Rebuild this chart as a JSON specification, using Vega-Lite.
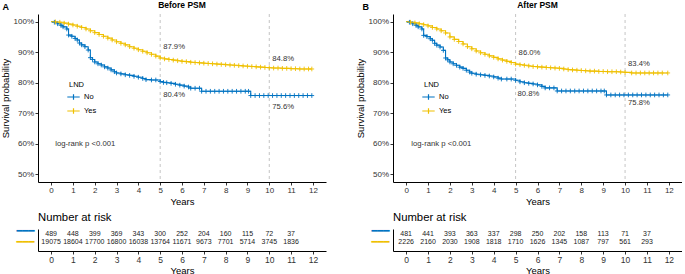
{
  "$schema": "https://vega.github.io/schema/vega-lite/v6.json",
  "padding": {"left": 0, "top": 1, "right": 0, "bottom": 0},
  "background": "white",
  "config": {
    "font": "Liberation Sans",
    "view": {"stroke": null},
    "axis": {"grid": false, "domainColor": "#000", "tickColor": "#000", "labelColor": "#333", "titleColor": "#000", "titleFontWeight": "normal", "tickSize": 3, "domainWidth": 1, "tickWidth": 0.8, "labelOverlap": false, "labelBound": false},
    "title": {"color": "#000"},
    "legend": {"titleFontWeight": "normal", "titleFontSize": 7.5, "labelFontSize": 7.5, "titleColor": "#000", "labelColor": "#000"}
  },
  "datasets": {
    "curves": [
      {"panel":"A","group":"No","t":0,"s":1},{"panel":"A","group":"No","t":0.15,"s":0.998},{"panel":"A","group":"No","t":0.3,"s":0.993},{"panel":"A","group":"No","t":0.45,"s":0.988},{"panel":"A","group":"No","t":0.55,"s":0.983},{"panel":"A","group":"No","t":0.72,"s":0.976},{"panel":"A","group":"No","t":0.8,"s":0.956},{"panel":"A","group":"No","t":0.95,"s":0.952},{"panel":"A","group":"No","t":1.1,"s":0.945},{"panel":"A","group":"No","t":1.2,"s":0.94},{"panel":"A","group":"No","t":1.3,"s":0.93},{"panel":"A","group":"No","t":1.4,"s":0.924},{"panel":"A","group":"No","t":1.55,"s":0.918},{"panel":"A","group":"No","t":1.7,"s":0.907},{"panel":"A","group":"No","t":1.8,"s":0.882},{"panel":"A","group":"No","t":1.9,"s":0.876},{"panel":"A","group":"No","t":2,"s":0.868},{"panel":"A","group":"No","t":2.15,"s":0.862},{"panel":"A","group":"No","t":2.3,"s":0.858},{"panel":"A","group":"No","t":2.45,"s":0.852},{"panel":"A","group":"No","t":2.6,"s":0.848},{"panel":"A","group":"No","t":2.75,"s":0.842},{"panel":"A","group":"No","t":2.9,"s":0.836},{"panel":"A","group":"No","t":3,"s":0.832},{"panel":"A","group":"No","t":3.2,"s":0.829},{"panel":"A","group":"No","t":3.4,"s":0.826},{"panel":"A","group":"No","t":3.6,"s":0.824},{"panel":"A","group":"No","t":3.8,"s":0.821},{"panel":"A","group":"No","t":4,"s":0.818},{"panel":"A","group":"No","t":4.2,"s":0.814},{"panel":"A","group":"No","t":4.35,"s":0.81},{"panel":"A","group":"No","t":4.6,"s":0.809},{"panel":"A","group":"No","t":4.8,"s":0.809},{"panel":"A","group":"No","t":5,"s":0.804},{"panel":"A","group":"No","t":5.15,"s":0.801},{"panel":"A","group":"No","t":5.3,"s":0.8},{"panel":"A","group":"No","t":5.5,"s":0.798},{"panel":"A","group":"No","t":5.7,"s":0.795},{"panel":"A","group":"No","t":5.9,"s":0.792},{"panel":"A","group":"No","t":6.1,"s":0.789},{"panel":"A","group":"No","t":6.3,"s":0.786},{"panel":"A","group":"No","t":6.4,"s":0.782},{"panel":"A","group":"No","t":6.6,"s":0.782},{"panel":"A","group":"No","t":6.8,"s":0.782},{"panel":"A","group":"No","t":6.9,"s":0.772},{"panel":"A","group":"No","t":7.1,"s":0.772},{"panel":"A","group":"No","t":7.3,"s":0.772},{"panel":"A","group":"No","t":7.5,"s":0.772},{"panel":"A","group":"No","t":7.7,"s":0.772},{"panel":"A","group":"No","t":7.9,"s":0.772},{"panel":"A","group":"No","t":8.1,"s":0.772},{"panel":"A","group":"No","t":8.3,"s":0.772},{"panel":"A","group":"No","t":8.5,"s":0.772},{"panel":"A","group":"No","t":8.7,"s":0.772},{"panel":"A","group":"No","t":8.9,"s":0.772},{"panel":"A","group":"No","t":9.05,"s":0.772},{"panel":"A","group":"No","t":9.15,"s":0.758},{"panel":"A","group":"No","t":9.35,"s":0.758},{"panel":"A","group":"No","t":9.55,"s":0.758},{"panel":"A","group":"No","t":9.75,"s":0.758},{"panel":"A","group":"No","t":9.95,"s":0.758},{"panel":"A","group":"No","t":10.15,"s":0.758},{"panel":"A","group":"No","t":10.35,"s":0.758},{"panel":"A","group":"No","t":10.55,"s":0.758},{"panel":"A","group":"No","t":10.75,"s":0.758},{"panel":"A","group":"No","t":10.95,"s":0.758},{"panel":"A","group":"No","t":11.15,"s":0.758},{"panel":"A","group":"No","t":11.35,"s":0.758},{"panel":"A","group":"No","t":11.55,"s":0.758},{"panel":"A","group":"No","t":11.75,"s":0.758},{"panel":"A","group":"No","t":11.95,"s":0.758},
      {"panel":"A","group":"Yes","t":0,"s":1},{"panel":"A","group":"Yes","t":0.2,"s":0.999},{"panel":"A","group":"Yes","t":0.4,"s":0.998},{"panel":"A","group":"Yes","t":0.6,"s":0.995},{"panel":"A","group":"Yes","t":0.8,"s":0.992},{"panel":"A","group":"Yes","t":1,"s":0.989},{"panel":"A","group":"Yes","t":1.2,"s":0.985},{"panel":"A","group":"Yes","t":1.4,"s":0.981},{"panel":"A","group":"Yes","t":1.6,"s":0.976},{"panel":"A","group":"Yes","t":1.8,"s":0.97},{"panel":"A","group":"Yes","t":2,"s":0.964},{"panel":"A","group":"Yes","t":2.2,"s":0.958},{"panel":"A","group":"Yes","t":2.4,"s":0.952},{"panel":"A","group":"Yes","t":2.6,"s":0.946},{"panel":"A","group":"Yes","t":2.8,"s":0.94},{"panel":"A","group":"Yes","t":3,"s":0.934},{"panel":"A","group":"Yes","t":3.2,"s":0.929},{"panel":"A","group":"Yes","t":3.4,"s":0.924},{"panel":"A","group":"Yes","t":3.6,"s":0.918},{"panel":"A","group":"Yes","t":3.8,"s":0.913},{"panel":"A","group":"Yes","t":4,"s":0.908},{"panel":"A","group":"Yes","t":4.2,"s":0.903},{"panel":"A","group":"Yes","t":4.4,"s":0.898},{"panel":"A","group":"Yes","t":4.6,"s":0.893},{"panel":"A","group":"Yes","t":4.8,"s":0.887},{"panel":"A","group":"Yes","t":5,"s":0.881},{"panel":"A","group":"Yes","t":5.2,"s":0.878},{"panel":"A","group":"Yes","t":5.4,"s":0.876},{"panel":"A","group":"Yes","t":5.6,"s":0.874},{"panel":"A","group":"Yes","t":5.8,"s":0.872},{"panel":"A","group":"Yes","t":6,"s":0.87},{"panel":"A","group":"Yes","t":6.2,"s":0.869},{"panel":"A","group":"Yes","t":6.4,"s":0.867},{"panel":"A","group":"Yes","t":6.6,"s":0.866},{"panel":"A","group":"Yes","t":6.8,"s":0.865},{"panel":"A","group":"Yes","t":7,"s":0.864},{"panel":"A","group":"Yes","t":7.2,"s":0.863},{"panel":"A","group":"Yes","t":7.4,"s":0.862},{"panel":"A","group":"Yes","t":7.6,"s":0.861},{"panel":"A","group":"Yes","t":7.8,"s":0.86},{"panel":"A","group":"Yes","t":8,"s":0.859},{"panel":"A","group":"Yes","t":8.2,"s":0.858},{"panel":"A","group":"Yes","t":8.4,"s":0.857},{"panel":"A","group":"Yes","t":8.6,"s":0.856},{"panel":"A","group":"Yes","t":8.8,"s":0.855},{"panel":"A","group":"Yes","t":9,"s":0.854},{"panel":"A","group":"Yes","t":9.2,"s":0.853},{"panel":"A","group":"Yes","t":9.4,"s":0.852},{"panel":"A","group":"Yes","t":9.6,"s":0.851},{"panel":"A","group":"Yes","t":9.8,"s":0.85},{"panel":"A","group":"Yes","t":10,"s":0.849},{"panel":"A","group":"Yes","t":10.2,"s":0.848},{"panel":"A","group":"Yes","t":10.4,"s":0.848},{"panel":"A","group":"Yes","t":10.6,"s":0.847},{"panel":"A","group":"Yes","t":10.8,"s":0.847},{"panel":"A","group":"Yes","t":11,"s":0.846},{"panel":"A","group":"Yes","t":11.2,"s":0.846},{"panel":"A","group":"Yes","t":11.4,"s":0.845},{"panel":"A","group":"Yes","t":11.6,"s":0.845},{"panel":"A","group":"Yes","t":11.8,"s":0.845},{"panel":"A","group":"Yes","t":11.95,"s":0.845},
      {"panel":"B","group":"No","t":0,"s":1},{"panel":"B","group":"No","t":0.15,"s":0.998},{"panel":"B","group":"No","t":0.3,"s":0.993},{"panel":"B","group":"No","t":0.45,"s":0.988},{"panel":"B","group":"No","t":0.55,"s":0.983},{"panel":"B","group":"No","t":0.72,"s":0.976},{"panel":"B","group":"No","t":0.8,"s":0.955},{"panel":"B","group":"No","t":0.95,"s":0.951},{"panel":"B","group":"No","t":1.1,"s":0.944},{"panel":"B","group":"No","t":1.2,"s":0.939},{"panel":"B","group":"No","t":1.3,"s":0.929},{"panel":"B","group":"No","t":1.4,"s":0.923},{"panel":"B","group":"No","t":1.55,"s":0.917},{"panel":"B","group":"No","t":1.7,"s":0.906},{"panel":"B","group":"No","t":1.8,"s":0.881},{"panel":"B","group":"No","t":1.9,"s":0.875},{"panel":"B","group":"No","t":2,"s":0.868},{"panel":"B","group":"No","t":2.15,"s":0.862},{"panel":"B","group":"No","t":2.3,"s":0.857},{"panel":"B","group":"No","t":2.45,"s":0.851},{"panel":"B","group":"No","t":2.6,"s":0.847},{"panel":"B","group":"No","t":2.75,"s":0.841},{"panel":"B","group":"No","t":2.9,"s":0.835},{"panel":"B","group":"No","t":3,"s":0.831},{"panel":"B","group":"No","t":3.2,"s":0.828},{"panel":"B","group":"No","t":3.4,"s":0.826},{"panel":"B","group":"No","t":3.6,"s":0.824},{"panel":"B","group":"No","t":3.8,"s":0.822},{"panel":"B","group":"No","t":4,"s":0.819},{"panel":"B","group":"No","t":4.2,"s":0.815},{"panel":"B","group":"No","t":4.35,"s":0.812},{"panel":"B","group":"No","t":4.6,"s":0.812},{"panel":"B","group":"No","t":4.8,"s":0.812},{"panel":"B","group":"No","t":5,"s":0.808},{"panel":"B","group":"No","t":5.2,"s":0.803},{"panel":"B","group":"No","t":5.4,"s":0.8},{"panel":"B","group":"No","t":5.6,"s":0.798},{"panel":"B","group":"No","t":5.8,"s":0.796},{"panel":"B","group":"No","t":6,"s":0.793},{"panel":"B","group":"No","t":6.2,"s":0.788},{"panel":"B","group":"No","t":6.35,"s":0.783},{"panel":"B","group":"No","t":6.55,"s":0.783},{"panel":"B","group":"No","t":6.75,"s":0.783},{"panel":"B","group":"No","t":6.9,"s":0.773},{"panel":"B","group":"No","t":7.1,"s":0.773},{"panel":"B","group":"No","t":7.3,"s":0.773},{"panel":"B","group":"No","t":7.5,"s":0.773},{"panel":"B","group":"No","t":7.7,"s":0.773},{"panel":"B","group":"No","t":7.9,"s":0.773},{"panel":"B","group":"No","t":8.1,"s":0.773},{"panel":"B","group":"No","t":8.3,"s":0.773},{"panel":"B","group":"No","t":8.5,"s":0.773},{"panel":"B","group":"No","t":8.7,"s":0.773},{"panel":"B","group":"No","t":8.9,"s":0.773},{"panel":"B","group":"No","t":9.05,"s":0.773},{"panel":"B","group":"No","t":9.15,"s":0.76},{"panel":"B","group":"No","t":9.35,"s":0.76},{"panel":"B","group":"No","t":9.55,"s":0.76},{"panel":"B","group":"No","t":9.75,"s":0.76},{"panel":"B","group":"No","t":9.95,"s":0.76},{"panel":"B","group":"No","t":10.15,"s":0.76},{"panel":"B","group":"No","t":10.35,"s":0.76},{"panel":"B","group":"No","t":10.55,"s":0.76},{"panel":"B","group":"No","t":10.75,"s":0.76},{"panel":"B","group":"No","t":10.95,"s":0.76},{"panel":"B","group":"No","t":11.15,"s":0.76},{"panel":"B","group":"No","t":11.35,"s":0.76},{"panel":"B","group":"No","t":11.55,"s":0.76},{"panel":"B","group":"No","t":11.75,"s":0.76},{"panel":"B","group":"No","t":11.95,"s":0.76},
      {"panel":"B","group":"Yes","t":0,"s":1},{"panel":"B","group":"Yes","t":0.2,"s":0.998},{"panel":"B","group":"Yes","t":0.4,"s":0.996},{"panel":"B","group":"Yes","t":0.6,"s":0.993},{"panel":"B","group":"Yes","t":0.8,"s":0.99},{"panel":"B","group":"Yes","t":1,"s":0.986},{"panel":"B","group":"Yes","t":1.2,"s":0.981},{"panel":"B","group":"Yes","t":1.4,"s":0.976},{"panel":"B","group":"Yes","t":1.6,"s":0.97},{"panel":"B","group":"Yes","t":1.8,"s":0.963},{"panel":"B","group":"Yes","t":2,"s":0.95},{"panel":"B","group":"Yes","t":2.2,"s":0.942},{"panel":"B","group":"Yes","t":2.4,"s":0.935},{"panel":"B","group":"Yes","t":2.6,"s":0.927},{"panel":"B","group":"Yes","t":2.8,"s":0.918},{"panel":"B","group":"Yes","t":3,"s":0.911},{"panel":"B","group":"Yes","t":3.2,"s":0.904},{"panel":"B","group":"Yes","t":3.4,"s":0.898},{"panel":"B","group":"Yes","t":3.6,"s":0.893},{"panel":"B","group":"Yes","t":3.8,"s":0.888},{"panel":"B","group":"Yes","t":4,"s":0.883},{"panel":"B","group":"Yes","t":4.2,"s":0.878},{"panel":"B","group":"Yes","t":4.4,"s":0.874},{"panel":"B","group":"Yes","t":4.6,"s":0.87},{"panel":"B","group":"Yes","t":4.8,"s":0.866},{"panel":"B","group":"Yes","t":5,"s":0.861},{"panel":"B","group":"Yes","t":5.2,"s":0.859},{"panel":"B","group":"Yes","t":5.4,"s":0.857},{"panel":"B","group":"Yes","t":5.6,"s":0.855},{"panel":"B","group":"Yes","t":5.8,"s":0.853},{"panel":"B","group":"Yes","t":6,"s":0.852},{"panel":"B","group":"Yes","t":6.2,"s":0.851},{"panel":"B","group":"Yes","t":6.4,"s":0.85},{"panel":"B","group":"Yes","t":6.6,"s":0.849},{"panel":"B","group":"Yes","t":6.8,"s":0.848},{"panel":"B","group":"Yes","t":7,"s":0.847},{"panel":"B","group":"Yes","t":7.2,"s":0.845},{"panel":"B","group":"Yes","t":7.4,"s":0.843},{"panel":"B","group":"Yes","t":7.6,"s":0.842},{"panel":"B","group":"Yes","t":7.8,"s":0.841},{"panel":"B","group":"Yes","t":8,"s":0.84},{"panel":"B","group":"Yes","t":8.2,"s":0.839},{"panel":"B","group":"Yes","t":8.4,"s":0.838},{"panel":"B","group":"Yes","t":8.6,"s":0.838},{"panel":"B","group":"Yes","t":8.8,"s":0.837},{"panel":"B","group":"Yes","t":9,"s":0.837},{"panel":"B","group":"Yes","t":9.2,"s":0.836},{"panel":"B","group":"Yes","t":9.4,"s":0.836},{"panel":"B","group":"Yes","t":9.6,"s":0.836},{"panel":"B","group":"Yes","t":9.8,"s":0.835},{"panel":"B","group":"Yes","t":10,"s":0.834},{"panel":"B","group":"Yes","t":10.3,"s":0.832},{"panel":"B","group":"Yes","t":10.5,"s":0.832},{"panel":"B","group":"Yes","t":10.7,"s":0.832},{"panel":"B","group":"Yes","t":10.9,"s":0.832},{"panel":"B","group":"Yes","t":11.1,"s":0.832},{"panel":"B","group":"Yes","t":11.3,"s":0.832},{"panel":"B","group":"Yes","t":11.5,"s":0.832},{"panel":"B","group":"Yes","t":11.7,"s":0.832},{"panel":"B","group":"Yes","t":11.95,"s":0.832}
    ],
    "risk": [
      {"panel":"A","group":"No","t":0,"n":"489"},{"panel":"A","group":"No","t":1,"n":"448"},{"panel":"A","group":"No","t":2,"n":"399"},{"panel":"A","group":"No","t":3,"n":"369"},{"panel":"A","group":"No","t":4,"n":"343"},{"panel":"A","group":"No","t":5,"n":"300"},{"panel":"A","group":"No","t":6,"n":"252"},{"panel":"A","group":"No","t":7,"n":"204"},{"panel":"A","group":"No","t":8,"n":"160"},{"panel":"A","group":"No","t":9,"n":"115"},{"panel":"A","group":"No","t":10,"n":"72"},{"panel":"A","group":"No","t":11,"n":"37"},
      {"panel":"A","group":"Yes","t":0,"n":"19075"},{"panel":"A","group":"Yes","t":1,"n":"18604"},{"panel":"A","group":"Yes","t":2,"n":"17700"},{"panel":"A","group":"Yes","t":3,"n":"16800"},{"panel":"A","group":"Yes","t":4,"n":"16038"},{"panel":"A","group":"Yes","t":5,"n":"13764"},{"panel":"A","group":"Yes","t":6,"n":"11671"},{"panel":"A","group":"Yes","t":7,"n":"9673"},{"panel":"A","group":"Yes","t":8,"n":"7701"},{"panel":"A","group":"Yes","t":9,"n":"5714"},{"panel":"A","group":"Yes","t":10,"n":"3745"},{"panel":"A","group":"Yes","t":11,"n":"1836"},
      {"panel":"B","group":"No","t":0,"n":"481"},{"panel":"B","group":"No","t":1,"n":"441"},{"panel":"B","group":"No","t":2,"n":"393"},{"panel":"B","group":"No","t":3,"n":"363"},{"panel":"B","group":"No","t":4,"n":"337"},{"panel":"B","group":"No","t":5,"n":"298"},{"panel":"B","group":"No","t":6,"n":"250"},{"panel":"B","group":"No","t":7,"n":"202"},{"panel":"B","group":"No","t":8,"n":"158"},{"panel":"B","group":"No","t":9,"n":"113"},{"panel":"B","group":"No","t":10,"n":"71"},{"panel":"B","group":"No","t":11,"n":"37"},
      {"panel":"B","group":"Yes","t":0,"n":"2226"},{"panel":"B","group":"Yes","t":1,"n":"2160"},{"panel":"B","group":"Yes","t":2,"n":"2030"},{"panel":"B","group":"Yes","t":3,"n":"1908"},{"panel":"B","group":"Yes","t":4,"n":"1818"},{"panel":"B","group":"Yes","t":5,"n":"1710"},{"panel":"B","group":"Yes","t":6,"n":"1626"},{"panel":"B","group":"Yes","t":7,"n":"1345"},{"panel":"B","group":"Yes","t":8,"n":"1087"},{"panel":"B","group":"Yes","t":9,"n":"797"},{"panel":"B","group":"Yes","t":10,"n":"561"},{"panel":"B","group":"Yes","t":11,"n":"293"}
    ],
    "ann": [
      {"panel":"A","t":5,"s":0.916,"label":"87.9%"},{"panel":"A","t":5,"s":0.76,"label":"80.4%"},{"panel":"A","t":10,"s":0.877,"label":"84.8%"},{"panel":"A","t":10,"s":0.719,"label":"75.6%"},{"panel":"A","t":0.05,"s":0.599,"label":"log-rank p <0.001"},
      {"panel":"B","t":5,"s":0.896,"label":"86.0%"},{"panel":"B","t":4.95,"s":0.762,"label":"80.8%"},{"panel":"B","t":10,"s":0.861,"label":"83.4%"},{"panel":"B","t":10,"s":0.734,"label":"75.8%"},{"panel":"B","t":0.1,"s":0.599,"label":"log-rank p <0.001"}
    ]
  },
  "spacing": 29,
  "resolve": {"scale": {"x": "independent", "y": "independent"}, "legend": {"color": "independent"}},
  "hconcat": [
    {
      "title": {"text": "A", "anchor": "start", "frame": "bounds", "fontSize": 9, "fontWeight": "bold", "offset": -11, "dx": 2},
      "bounds": "flush",
      "spacing": 47,
      "resolve": {"scale": {"x": "independent", "y": "independent"}, "legend": {"color": "independent"}},
      "vconcat": [
        {
          "width": 288, "height": 168,
          "title": {"text": "Before PSM", "fontSize": 8.5, "fontWeight": "bold", "anchor": "middle", "offset": 4},
          "encoding": {
            "x": {"field": "t", "type": "quantitative", "scale": {"domain": [-0.6, 12.6], "nice": false}, "axis": {"values": [0,1,2,3,4,5,6,7,8,9,10,11,12], "tickCount": 13, "labelOverlap": false, "title": "Years", "labelFontSize": 8, "titleFontSize": 9.5, "labelPadding": 1.5, "titlePadding": 2, "labelFlush": false}},
            "y": {"field": "s", "type": "quantitative", "scale": {"domain": [0.475, 1.025], "nice": false, "zero": false}, "axis": {"values": [0.5,0.6,0.7,0.8,0.9,1], "tickCount": 6, "labelOverlap": false, "format": ".0%", "title": "Survival probability", "labelFontSize": 8, "titleFontSize": 9.5, "labelPadding": 1.5, "titlePadding": 2.5, "labelFlush": false}}
          },
          "layer": [
            {"data": {"values": [{"t": 5}, {"t": 10}]}, "mark": {"type": "rule", "color": "#b5b5b5", "strokeDash": [3, 3], "strokeWidth": 0.8}, "encoding": {"y": null}},
            {"data": {"name": "curves"}, "transform": [{"filter": "datum.panel === 'A'"}], "mark": {"type": "line", "interpolate": "step-after", "strokeWidth": 1.1},
             "encoding": {
               "color": {"field": "group", "type": "nominal", "scale": {"domain": ["No", "Yes"], "range": ["#0073C2", "#EFC000"]}, "legend": {"title": "LND", "orient": "none", "legendX": 31, "legendY": 67, "symbolType": "M-1.6,0H1.6M0,-0.7V0.7", "symbolSize": 60, "symbolStrokeWidth": 1.2, "rowPadding": 3, "titlePadding": 4, "labelOffset": 6}}
             }},
            {"data": {"name": "curves"}, "transform": [{"filter": "datum.panel === 'A' && datum.t > 0"}], "mark": {"type": "point", "shape": "M-1,0H1M0,-1V1", "filled": false, "size": 22, "strokeWidth": 0.9, "opacity": 1},
             "encoding": {"color": {"field": "group", "type": "nominal"}}},
            {"data": {"name": "ann"}, "transform": [{"filter": "datum.panel === 'A'"}], "mark": {"type": "text", "align": "left", "baseline": "middle", "dx": 3, "fontSize": 7.7, "color": "#333"},
             "encoding": {"text": {"field": "label"}}}
          ]
        },
        {
          "width": 288, "height": 22,
          "title": {"text": "Number at risk", "anchor": "start", "frame": "group", "fontSize": 11.3, "fontWeight": "normal", "offset": 3},
          "data": {"name": "risk"},
          "transform": [{"filter": "datum.panel === 'A'"}],
          "mark": {"type": "text", "fontSize": 7, "dy": -2, "color": "#222"},
          "encoding": {
            "x": {"field": "t", "type": "quantitative", "scale": {"domain": [-0.6, 12.6], "nice": false}, "axis": {"values": [0,1,2,3,4,5,6,7,8,9,10,11,12], "tickCount": 13, "labelOverlap": false, "title": "Years", "labelFontSize": 8.5, "titleFontSize": 9.5, "labelPadding": 1.5, "titlePadding": 1, "labelFlush": false}},
            "y": {"field": "group", "type": "ordinal", "scale": {"type": "point", "padding": 1, "domain": ["No", "Yes"]}, "axis": {"title": null, "ticks": false, "labelExpr": "'━━━'", "labelFont": "DejaVu Sans", "labelFontWeight": "bold", "labelFontSize": 10, "labelPadding": 4, "labelOffset": {"condition": {"test": "datum.value === 'No'", "value": -5.5}, "value": -2.5}, "labelColor": {"condition": {"test": "datum.value === 'No'", "value": "#0073C2"}, "value": "#EFC000"}}},
            "text": {"field": "n", "type": "nominal"}
          }
        }
      ]
    },
    {
      "title": {"text": "B", "anchor": "start", "frame": "bounds", "fontSize": 9, "fontWeight": "bold", "offset": -11, "dx": 7},
      "bounds": "flush",
      "spacing": 47,
      "resolve": {"scale": {"x": "independent", "y": "independent"}, "legend": {"color": "independent"}},
      "vconcat": [
        {
          "width": 289, "height": 168,
          "title": {"text": "After PSM", "fontSize": 8.5, "fontWeight": "bold", "anchor": "middle", "offset": 4},
          "encoding": {
            "x": {"field": "t", "type": "quantitative", "scale": {"domain": [-0.6, 12.6], "nice": false}, "axis": {"values": [0,1,2,3,4,5,6,7,8,9,10,11,12], "tickCount": 13, "labelOverlap": false, "title": "Years", "labelFontSize": 8, "titleFontSize": 9.5, "labelPadding": 1.5, "titlePadding": 2, "labelFlush": false}},
            "y": {"field": "s", "type": "quantitative", "scale": {"domain": [0.475, 1.025], "nice": false, "zero": false}, "axis": {"values": [0.5,0.6,0.7,0.8,0.9,1], "tickCount": 6, "labelOverlap": false, "format": ".0%", "title": "Survival probability", "labelFontSize": 8, "titleFontSize": 9.5, "labelPadding": 1.5, "titlePadding": 2.5, "labelFlush": false}}
          },
          "layer": [
            {"data": {"values": [{"t": 5}, {"t": 10}]}, "mark": {"type": "rule", "color": "#b5b5b5", "strokeDash": [3, 3], "strokeWidth": 0.8}, "encoding": {"y": null}},
            {"data": {"name": "curves"}, "transform": [{"filter": "datum.panel === 'B'"}], "mark": {"type": "line", "interpolate": "step-after", "strokeWidth": 1.1},
             "encoding": {
               "color": {"field": "group", "type": "nominal", "scale": {"domain": ["No", "Yes"], "range": ["#0073C2", "#EFC000"]}, "legend": {"title": "LND", "orient": "none", "legendX": 31, "legendY": 67, "symbolType": "M-1.6,0H1.6M0,-0.7V0.7", "symbolSize": 60, "symbolStrokeWidth": 1.2, "rowPadding": 3, "titlePadding": 4, "labelOffset": 6}}
             }},
            {"data": {"name": "curves"}, "transform": [{"filter": "datum.panel === 'B' && datum.t > 0"}], "mark": {"type": "point", "shape": "M-1,0H1M0,-1V1", "filled": false, "size": 22, "strokeWidth": 0.9, "opacity": 1},
             "encoding": {"color": {"field": "group", "type": "nominal"}}},
            {"data": {"name": "ann"}, "transform": [{"filter": "datum.panel === 'B'"}], "mark": {"type": "text", "align": "left", "baseline": "middle", "dx": 3, "fontSize": 7.7, "color": "#333"},
             "encoding": {"text": {"field": "label"}}}
          ]
        },
        {
          "width": 289, "height": 22,
          "title": {"text": "Number at risk", "anchor": "start", "frame": "group", "fontSize": 11.3, "fontWeight": "normal", "offset": 3},
          "data": {"name": "risk"},
          "transform": [{"filter": "datum.panel === 'B'"}],
          "mark": {"type": "text", "fontSize": 7, "dy": -2, "color": "#222"},
          "encoding": {
            "x": {"field": "t", "type": "quantitative", "scale": {"domain": [-0.6, 12.6], "nice": false}, "axis": {"values": [0,1,2,3,4,5,6,7,8,9,10,11,12], "tickCount": 13, "labelOverlap": false, "title": "Years", "labelFontSize": 8.5, "titleFontSize": 9.5, "labelPadding": 1.5, "titlePadding": 1, "labelFlush": false}},
            "y": {"field": "group", "type": "ordinal", "scale": {"type": "point", "padding": 1, "domain": ["No", "Yes"]}, "axis": {"title": null, "ticks": false, "labelExpr": "'━━━'", "labelFont": "DejaVu Sans", "labelFontWeight": "bold", "labelFontSize": 10, "labelPadding": 4, "labelOffset": {"condition": {"test": "datum.value === 'No'", "value": -5.5}, "value": -2.5}, "labelColor": {"condition": {"test": "datum.value === 'No'", "value": "#0073C2"}, "value": "#EFC000"}}},
            "text": {"field": "n", "type": "nominal"}
          }
        }
      ]
    }
  ]
}
